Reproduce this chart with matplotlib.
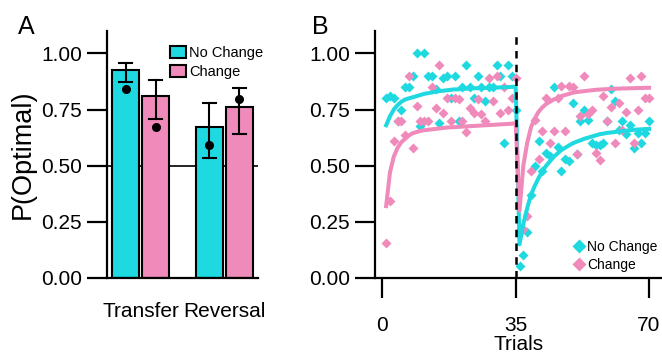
import matplotlib
matplotlib.use("Agg")
import matplotlib.pyplot as plt
from matplotlib.patches import Patch
from matplotlib.lines import Line2D
import numpy as np

plt.rcParams['font.family'] = ['Liberation Sans', 'DejaVu Sans']

CYAN = "#1fd9e1"
PINK = "#ef8abb"

# panel A: bar data
groups = ["Transfer", "Reversal"]
bar_nochange = [0.925, 0.671]
bar_change = [0.81, 0.76]
err_nochange_lo = [0.872, 0.536]
err_nochange_hi = [0.958, 0.78]
err_change_lo = [0.708, 0.641]
err_change_hi = [0.882, 0.847]
dot_nochange = [0.842, 0.59]
dot_change = [0.673, 0.796]

# panel B: per-trial data (trials 1..70, switch after 35)
trials = list(range(1, 71))
nochange_pts = [
    0.80, 0.81, 0.80, 0.70, 0.75, 0.85, 0.85, 0.90, 1.00, 0.675,
    1.00, 0.90, 0.90, 0.84, 0.69, 0.89, 0.90, 0.80, 0.90, 0.70,
    0.85, 0.95, 0.85, 0.80, 0.90, 0.85, 0.79, 0.85, 0.85, 0.95,
    0.90, 0.60, 0.95, 0.90, 0.75,
    0.054, 0.103, 0.206, 0.37, 0.50, 0.61, 0.476, 0.557, 0.545, 0.85,
    0.585, 0.475, 0.53, 0.52, 0.78, 0.55, 0.70, 0.75, 0.705, 0.60,
    0.59, 0.59, 0.60, 0.70, 0.84, 0.79, 0.66, 0.70, 0.64, 0.68,
    0.58, 0.645, 0.60, 0.645, 0.70]
change_pts = [
    0.155, 0.345, 0.61, 0.70, 0.70, 0.635, 0.90, 0.58, 0.765, 0.70,
    0.70, 0.70, 0.85, 0.755, 0.95, 0.735, 0.80, 0.70, 0.80, 0.795,
    0.70, 0.65, 0.757, 0.735, 0.795, 0.73, 0.70, 0.89, 0.79, 0.90,
    0.735, 0.85, 0.75, 0.80, 0.89,
    0.207, 0.217, 0.274, 0.475, 0.705, 0.53, 0.653, 0.80, 0.60, 0.653,
    0.80, 0.855, 0.653, 0.855, 0.85, 0.55, 0.72, 0.90, 0.73, 0.75,
    0.557, 0.525, 0.81, 0.70, 0.76, 0.60, 0.78, 0.66, 0.74, 0.89,
    0.60, 0.75, 0.90, 0.80, 0.80]
nochange_fit = [
    0.68, 0.72, 0.75, 0.77, 0.785, 0.795, 0.80, 0.805, 0.81, 0.815,
    0.82, 0.823, 0.826, 0.83, 0.832, 0.834, 0.836, 0.838, 0.84, 0.84,
    0.842, 0.843, 0.843, 0.845, 0.845, 0.846, 0.846, 0.847, 0.848, 0.848,
    0.849, 0.849, 0.85, 0.851, 0.852,
    0.15, 0.24, 0.31, 0.37, 0.41, 0.445, 0.475, 0.50, 0.52, 0.54,
    0.555, 0.57, 0.58, 0.59, 0.60, 0.607, 0.613, 0.62, 0.625, 0.63,
    0.635, 0.64, 0.643, 0.646, 0.648, 0.65, 0.652, 0.654, 0.656, 0.658,
    0.66, 0.661, 0.662, 0.663, 0.664]
change_fit = [
    0.32, 0.47, 0.54, 0.58, 0.605, 0.62, 0.635, 0.645, 0.65, 0.655,
    0.658, 0.66, 0.662, 0.664, 0.666, 0.668, 0.67, 0.671, 0.672, 0.673,
    0.674, 0.675, 0.676, 0.677, 0.678, 0.679, 0.68, 0.681, 0.682, 0.683,
    0.684, 0.685, 0.686, 0.687, 0.69,
    0.30, 0.50, 0.60, 0.67, 0.71, 0.74, 0.76, 0.775, 0.785, 0.795,
    0.80, 0.81, 0.815, 0.82, 0.825, 0.828, 0.83, 0.832, 0.834, 0.836,
    0.838, 0.839, 0.84, 0.841, 0.842, 0.843, 0.843, 0.844, 0.844, 0.845,
    0.845, 0.846, 0.846, 0.847, 0.847]
switch_trial = 35

yticks = [0.0, 0.25, 0.5, 0.75, 1.0]
ytick_labels = ["0.00", "0.25", "0.50", "0.75", "1.00"]

fig = plt.figure(figsize=(6.62, 3.58), dpi=100)


def style_axis(ax):
    for s in ["top", "right"]:
        ax.spines[s].set_visible(False)
    for s in ["left", "bottom"]:
        ax.spines[s].set_linewidth(1.6)
    ax.set_ylim(0, 1.1)
    ax.set_yticks(yticks)
    ax.set_yticklabels(ytick_labels)
    ax.tick_params(axis="y", length=14.5, width=1.6, pad=3.5, labelsize=15)


# ---- panel A ----
axA = fig.add_axes([0.1616, 0.2235, 0.2281, 0.690])
style_axis(axA)
x = np.arange(len(groups))
w = 0.32
off = 0.18
axA.axhline(0.5, color="black", lw=1.2, zorder=1)
axA.bar(x - off, bar_nochange, w, color=CYAN, edgecolor="black", lw=1.5, zorder=2)
axA.bar(x + off, bar_change, w, color=PINK, edgecolor="black", lw=1.5, zorder=2)
for xs, lo, hi, dots in [(x - off, err_nochange_lo, err_nochange_hi, dot_nochange),
                         (x + off, err_change_lo, err_change_hi, dot_change)]:
    for xi, l, h in zip(xs, lo, hi):
        axA.plot([xi, xi], [l, h], color="black", lw=1.5, zorder=3)
        axA.plot([xi - 0.08, xi + 0.08], [l, l], color="black", lw=1.5, zorder=3)
        axA.plot([xi - 0.08, xi + 0.08], [h, h], color="black", lw=1.5, zorder=3)
    axA.plot(xs, dots, "o", color="black", ms=5.5, zorder=4)
axA.set_xlim(-0.404, 1.404)
axA.set_xticks(x)
axA.set_xticklabels(groups)
axA.tick_params(axis="x", length=0, pad=17, labelsize=15)
axA.set_ylabel("P(Optimal)", fontsize=19.5, labelpad=4)
axA.legend(handles=[Patch(facecolor=CYAN, edgecolor="black", lw=1.5, label="No Change"),
                    Patch(facecolor=PINK, edgecolor="black", lw=1.5, label="Change")],
           loc="upper left", bbox_to_anchor=(0.415, 0.94), frameon=False,
           fontsize=10.5, handlelength=1.1, handleheight=0.85, handletextpad=0.25,
           labelspacing=0.35, borderpad=0, borderaxespad=0)

# ---- panel B ----
axB = fig.add_axes([0.5665, 0.2235, 0.4335, 0.690])
style_axis(axB)
axB.plot(trials, nochange_pts, "D", color=CYAN, ms=5.2, mec="none", zorder=2)
axB.plot(trials, change_pts, "D", color=PINK, ms=5.2, mec="none", zorder=2)
axB.plot(trials, nochange_fit, color=CYAN, lw=2.9, zorder=3)
axB.plot(trials, change_fit, color=PINK, lw=2.9, zorder=3)
axB.axvline(switch_trial, color="black", lw=1.8, ls=(0, (3, 2.5)), zorder=4)
axB.set_xlim(-1.92, 73.4)
axB.set_xticks([0, 35, 70])
axB.tick_params(axis="x", length=14.5, width=1.6, pad=13, labelsize=15)
axB.set_xlabel("Trials", fontsize=15, labelpad=0)
axB.legend(handles=[Line2D([], [], marker="D", ls="none", color=CYAN, ms=7.5, mec="none", label="No Change"),
                    Line2D([], [], marker="D", ls="none", color=PINK, ms=7.5, mec="none", label="Change")],
           loc="upper left", bbox_to_anchor=(0.69, 0.155), frameon=False,
           fontsize=10, handlelength=0.8, handletextpad=0.2, labelspacing=0.3,
           borderpad=0, borderaxespad=0)

fig.text(0.027, 0.905, "A", fontsize=18)
fig.text(0.472, 0.905, "B", fontsize=18)

fig.savefig("out.png", dpi=100)
